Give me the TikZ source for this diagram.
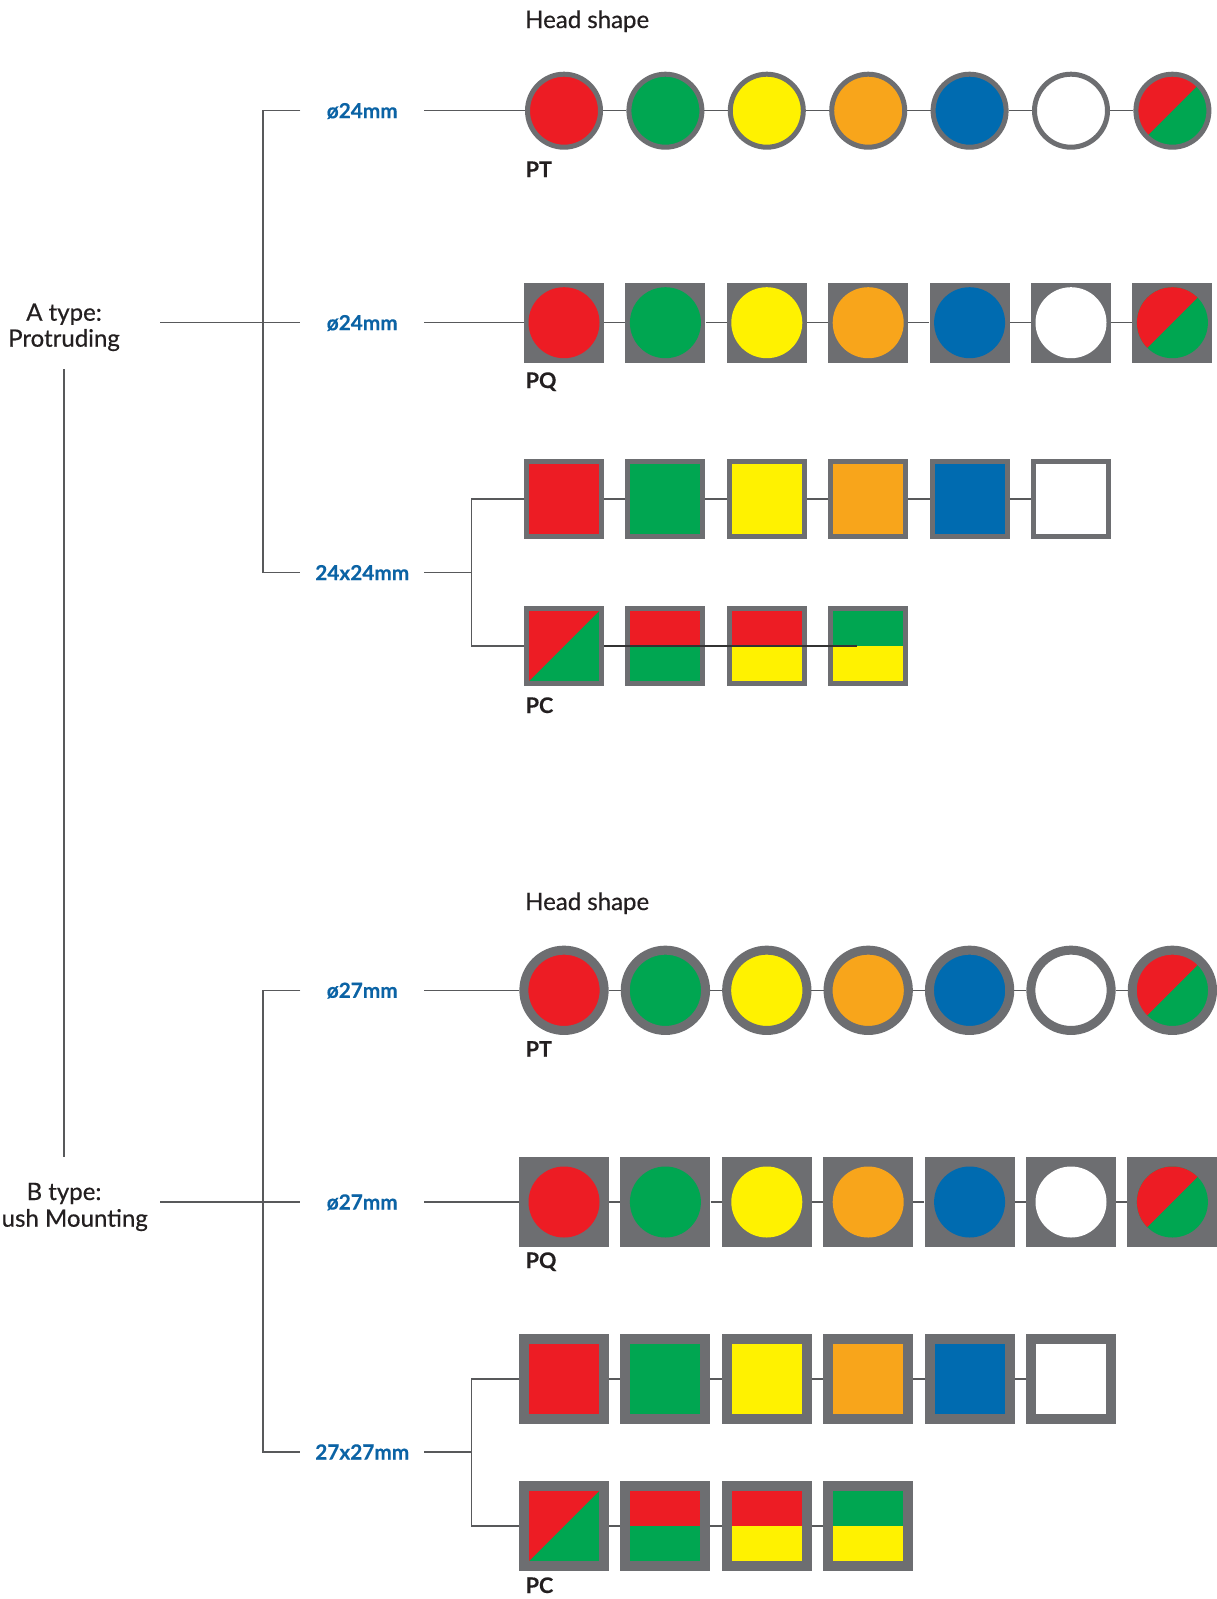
\documentclass[tikz,border=0pt]{standalone}
\usepackage{fontspec}
\setmainfont{Lato}
\newfontfamily\latomed[FakeBold=0.45]{Lato}
\newfontfamily\latobb[FakeBold=0.35]{Lato}
\usetikzlibrary{backgrounds}
\definecolor{cred}{HTML}{ED1C24}
\definecolor{cgreen}{HTML}{00A651}
\definecolor{cyellow}{HTML}{FFF200}
\definecolor{corange}{HTML}{F8A51B}
\definecolor{cblue}{HTML}{006BB0}
\definecolor{ringgray}{HTML}{6D6E71}
\definecolor{linegray}{HTML}{58595B}
\definecolor{darkline}{HTML}{333333}
\definecolor{labblue}{HTML}{0B63A5}
\definecolor{txtc}{HTML}{231F20}
\tikzset{
  conn/.style={draw=linegray, line width=1.5pt},
  headtxt/.style={font=\latomed\fontsize{24}{28}\selectfont, text=txtc, inner sep=0pt},
  typetxt/.style={font=\latomed\fontsize{24}{27}\selectfont, text=txtc, inner sep=0pt},
  sertxt/.style={font=\latobb\bfseries\fontsize{21.5}{25}\selectfont, text=txtc, inner sep=0pt},
  lab/.style={font=\latobb\bfseries\fontsize{20.8}{24}\selectfont, text=labblue, inner sep=0pt,
    minimum width=123.5pt, text height=15pt, text depth=0pt},
  ptA/.style={circle, draw=ringgray, line width=5pt, minimum size=73pt, inner sep=0pt, fill=#1},
  ptB/.style={circle, draw=ringgray, line width=9pt, minimum size=80.3pt, inner sep=0pt, fill=#1},
  diagsplit/.style={path picture={\fill[cred] (path picture bounding box.south west) -- (path picture bounding box.north east) -- (path picture bounding box.north west) -- cycle;}},
  halfsplit/.style={path picture={\fill[#1] (path picture bounding box.west) rectangle (path picture bounding box.north east);}},
  pqA/.style={rectangle, fill=ringgray, minimum size=80pt, inner sep=0pt,
    path picture={\fill[#1] (path picture bounding box.center) circle (35.5pt);}},
  pqB/.style={rectangle, fill=ringgray, minimum size=90pt, inner sep=0pt,
    path picture={\fill[#1] (path picture bounding box.center) circle (35.5pt);}},
  pqsplit/.style={path picture={\clip (path picture bounding box.center) circle (35.5pt);
    \fill[cgreen] (path picture bounding box.south west) rectangle (path picture bounding box.north east);
    \fill[cred] (path picture bounding box.south west) -- (path picture bounding box.north east) -- (path picture bounding box.north west) -- cycle;}},
  pqAs/.style={rectangle, fill=ringgray, minimum size=80pt, inner sep=0pt, pqsplit},
  pqBs/.style={rectangle, fill=ringgray, minimum size=90pt, inner sep=0pt, pqsplit},
  sqA/.style={rectangle, draw=ringgray, line width=5pt, minimum size=75pt, inner sep=0pt, fill=#1},
  sqB/.style={rectangle, draw=ringgray, line width=10pt, minimum size=80pt, inner sep=0pt, fill=#1},
}
\begin{document}
\begin{tikzpicture}[x=1pt,y=-1pt]
\fill[white] (0,0) rectangle (1216,1599);
\useasboundingbox (0,0) rectangle (1216,1599);

% ---------- texts ----------
\node[headtxt, anchor=base west] (headA) at (525,28) {Head shape};
\node[headtxt, anchor=base west] (headB) at (525,910) {Head shape};
\node[typetxt, anchor=base, minimum width=192pt] (Atype) at (64,320.7) {A type:};
\node[typetxt, anchor=base, minimum width=192pt] (Aprot) at (64,346.7) {Protruding};
\node[typetxt, anchor=base, minimum width=192pt] (Btype) at (64,1200) {B type:};
\node[typetxt, anchor=base west] (Bmount) at (1.5,1226.7) {ush Mounting};

\node[lab] (labA1) at (362.25,110.7) {ø24mm};
\node[lab] (labA2) at (362.25,322.7) {ø24mm};
\node[lab] (labA3) at (362.25,572.7) {24x24mm};
\node[lab] (labB1) at (362.25,990.3) {ø27mm};
\node[lab] (labB2) at (362.25,1202) {ø27mm};
\node[lab] (labB3) at (362.25,1452) {27x27mm};

\node[sertxt, anchor=base west] (sPTA) at (525.5,177) {PT};
\node[sertxt, anchor=base west] (sPQA) at (525.5,388) {PQ};
\node[sertxt, anchor=base west] (sPCA) at (525.5,713) {PC};
\node[sertxt, anchor=base west] (sPTB) at (525.5,1056.7) {PT};
\node[sertxt, anchor=base west] (sPQB) at (525.5,1268) {PQ};
\node[sertxt, anchor=base west] (sPCB) at (525.5,1593) {PC};

% ---------- A type shapes ----------
\foreach \col [count=\i] in {cred,cgreen,cyellow,corange,cblue,white}
  \node[ptA=\col] (a\i) at ({564+101.4*(\i-1)},110.7) {};
\node[ptA=cgreen, diagsplit] (a7) at (1172.4,110.7) {};

\foreach \col [count=\i] in {cred,cgreen,cyellow,corange,cblue,white}
  \node[pqA=\col] (b\i) at ({564+101.4*(\i-1)},322.7) {};
\node[pqAs] (b7) at (1172.4,322.7) {};

\foreach \col [count=\i] in {cred,cgreen,cyellow,corange,cblue,white}
  \node[sqA=\col] (c\i) at ({564+101.4*(\i-1)},499) {};

\node[sqA=cgreen, diagsplit] (d1) at (564,646) {};
\node[sqA=cgreen, halfsplit=cred] (d2) at (665.4,646) {};
\node[sqA=cyellow, halfsplit=cred] (d3) at (766.8,646) {};
\node[sqA=cyellow, halfsplit=cgreen] (d4) at (868.2,646) {};

% ---------- B type shapes ----------
\foreach \col [count=\i] in {cred,cgreen,cyellow,corange,cblue,white}
  \node[ptB=\col] (e\i) at ({564+101.4*(\i-1)},990.3) {};
\node[ptB=cgreen, diagsplit] (e7) at (1172.4,990.3) {};

\foreach \col [count=\i] in {cred,cgreen,cyellow,corange,cblue,white}
  \node[pqB=\col] (f\i) at ({564+101.4*(\i-1)},1202) {};
\node[pqBs] (f7) at (1172.4,1202) {};

\foreach \col [count=\i] in {cred,cgreen,cyellow,corange,cblue,white}
  \node[sqB=\col] (g\i) at ({564+101.4*(\i-1)},1379) {};

\node[sqB=cgreen, diagsplit] (h1) at (564,1526) {};
\node[sqB=cgreen, halfsplit=cred] (h2) at (665.4,1526) {};
\node[sqB=cyellow, halfsplit=cred] (h3) at (766.8,1526) {};
\node[sqB=cyellow, halfsplit=cgreen] (h4) at (868.2,1526) {};

% ---------- junction coordinates ----------
\coordinate (tA) at (263,322.7);
\coordinate (jA) at (471.6,572.7);
\coordinate (tB) at (263,1202);
\coordinate (jB) at (471.6,1452);
\coordinate (dend) at (857,646);

% ---------- connectors ----------
\draw[conn] (labA2.west -| Aprot.east) -- (labA2);
\draw[conn] (labA1) -| (tA) |- (labA3);
\draw[conn] ([yshift=-18pt]Aprot.south) -- ([yshift=26pt]Btype.north);
\draw[conn] (labB2.west -| Btype.east) -- (labB2);
\draw[conn] (labB1) -| (tB) |- (labB3);

\draw[conn] (labA1) -- (a1) -- (a2) -- (a3) -- (a4) -- (a5) -- (a6) -- (a7);
\draw[conn] (labA2) -- (b1) -- (b2) -- (b3) -- (b4) -- (b5) -- (b6) -- (b7);
\draw[conn] (labA3) -- (jA);
\draw[conn] (c1) -| (jA) |- (d1);
\draw[conn] (c1) -- (c2) -- (c3) -- (c4) -- (c5) -- (c6);
\draw[conn] (d1) -- (d2) -- (d3) -- (d4);
\draw[draw=darkline, line width=1.5pt] (d1.east) -- (dend);

\draw[conn] (labB1) -- (e1) -- (e2) -- (e3) -- (e4) -- (e5) -- (e6) -- (e7);
\draw[conn] (labB2) -- (f1) -- (f2) -- (f3) -- (f4) -- (f5) -- (f6) -- (f7);
\draw[conn] (labB3) -- (jB);
\draw[conn] (g1) -| (jB) |- (h1);
\draw[conn] (g1) -- (g2) -- (g3) -- (g4) -- (g5) -- (g6);
\draw[conn] (h1) -- (h2) -- (h3) -- (h4);
\end{tikzpicture}
\end{document}
